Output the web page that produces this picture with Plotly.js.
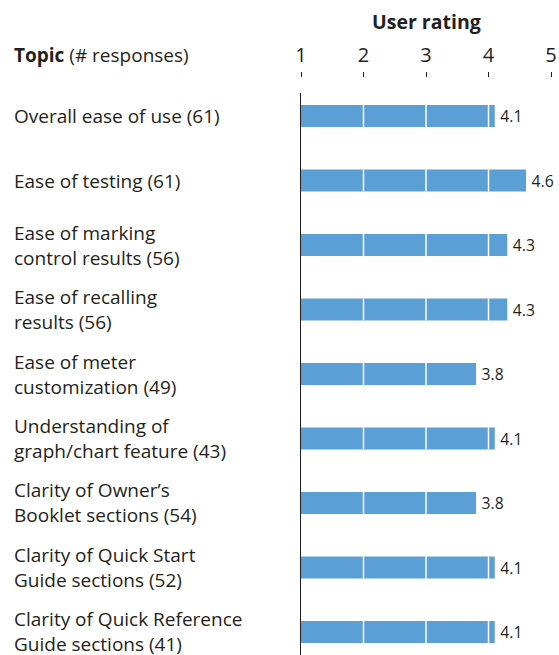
<!DOCTYPE html>
<html>
<head>
<meta charset="utf-8">
<script src="https://cdn.plot.ly/plotly-3.0.1.min.js"></script>
<style>html,body{margin:0;padding:0;background:#fff;}#chart{width:559px;height:655px;}</style>
</head>
<body>
<div id="chart"></div>
<script>
const topics = [
  "Overall ease of use (61)",
  "Ease of testing (61)",
  "Ease of marking<br>control results (56)",
  "Ease of recalling<br>results (56)",
  "Ease of meter<br>customization (49)",
  "Understanding of<br>graph/chart feature (43)",
  "Clarity of Owner’s<br>Booklet sections (54)",
  "Clarity of Quick Start<br>Guide sections (52)",
  "Clarity of Quick Reference<br>Guide sections (41)"
];
const ratings = [4.1, 4.6, 4.3, 4.3, 3.8, 4.1, 3.8, 4.1, 4.1];
const tickValues = [1, 2, 3, 4, 5];
const gridValues = [2, 3, 4];
const scaleMin = 1, scaleMax = 5;

const FONT = "Open Sans, Noto Sans, sans-serif";
const TXT = "#231f20";
const BAR = "#5a9fd5";

const W = 559, H = 655;
const plotTop = 93, axisY = 77;
const BAR_W = 0.34;

const trace = {
  type: "bar",
  orientation: "h",
  y: topics,
  x: ratings.map(v => v - scaleMin),
  base: scaleMin,
  text: ratings.map(v => v.toFixed(1)),
  texttemplate: "\u2009%{text}",
  textposition: "outside",
  textfont: {family: FONT, size: 16.5, color: TXT},
  cliponaxis: false,
  marker: {color: BAR, line: {width: 0}},
  width: BAR_W,
  hoverinfo: "none"
};

// white grid lines drawn only across the bars
const shapes = [];
ratings.forEach((r, i) => {
  gridValues.filter(g => g < r).forEach(g => {
    shapes.push({
      type: "line", xref: "x", yref: "y",
      x0: g, x1: g, y0: i - BAR_W / 2, y1: i + BAR_W / 2,
      line: {color: "#ffffff", width: 1.5},
      layer: "above"
    });
  });
});

const LABEL_SIZE = 19;
const leftX = (13 - 301) / 250;
const annotations = topics.map(t => ({
  xref: "paper", yref: "y",
  x: leftX, y: t,
  xanchor: "left", yanchor: "middle", align: "left",
  text: t, showarrow: false, borderpad: 0,
  font: {family: FONT, size: LABEL_SIZE, color: TXT}
}));
annotations.push({
  xref: "paper", yref: "paper",
  x: leftX, y: (H - 55) / H,
  xanchor: "left", yanchor: "middle", align: "left",
  text: "<b>Topic</b> (# responses)", showarrow: false, borderpad: 0,
  font: {family: FONT, size: LABEL_SIZE, color: TXT}
});
annotations.push({
  xref: "paper", yref: "paper",
  x: 0.5, y: (H - 22) / H,
  xanchor: "center", yanchor: "middle",
  text: "<b>User rating</b>", showarrow: false, borderpad: 0,
  font: {family: FONT, size: 19.5, color: TXT}
});

const layout = {
  width: W, height: H,
  margin: {l: 301, r: 8, t: 0, b: 0, pad: 0},
  paper_bgcolor: "#ffffff", plot_bgcolor: "#ffffff",
  showlegend: false,
  font: {family: FONT, color: TXT},
  xaxis: {
    range: [scaleMin, scaleMax],
    side: "top", anchor: "free", position: (H - axisY) / H,
    tickmode: "array", tickvals: tickValues, ticktext: tickValues.map(String),
    ticks: "outside", ticklen: 5, tickwidth: 1, tickcolor: TXT,
    tickfont: {family: FONT, size: 20, color: TXT},
    ticklabelstandoff: 2,
    showgrid: false, zeroline: false, showline: false, fixedrange: true
  },
  yaxis: {
    domain: [0, (H - plotTop) / H],
    range: [8.357, -0.357],
    type: "category",
    showticklabels: false, ticks: "",
    showgrid: false, zeroline: false,
    showline: true, linecolor: TXT, linewidth: 1.5,
    layer: "above traces", fixedrange: true
  },
  shapes: shapes,
  annotations: annotations,
  bargap: 0.66
};

Plotly.newPlot("chart", [trace], layout, {displayModeBar: false, staticPlot: true});
</script>
</body>
</html>
